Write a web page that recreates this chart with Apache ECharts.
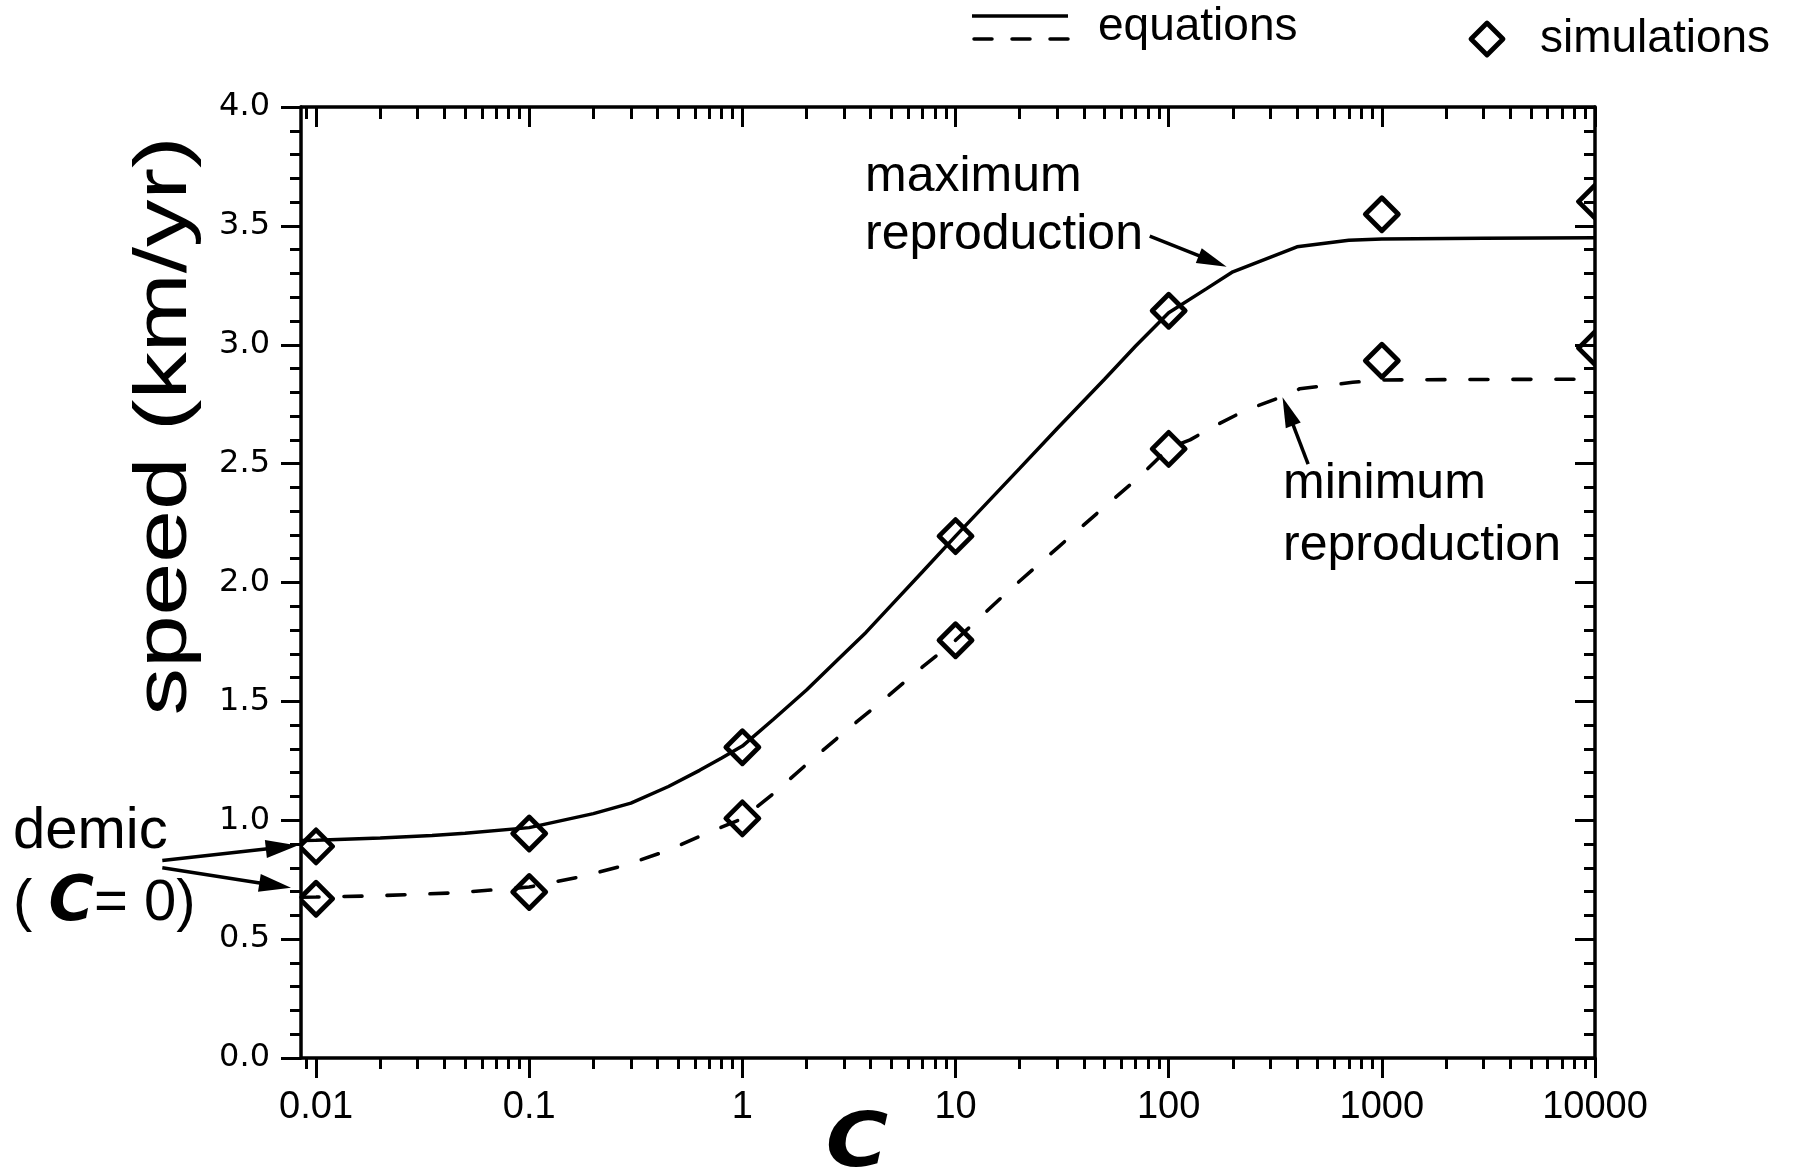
<!DOCTYPE html>
<html><head><meta charset="utf-8">
<script src="https://cdn.jsdelivr.net/npm/echarts@6/dist/echarts.min.js"></script>
<style>html,body{margin:0;padding:0;background:#fff}#c{width:1797px;height:1175px}</style>
</head><body><div id="c"></div>
<script>
// ---- data ----
const X_MAJOR = [0.01, 0.1, 1, 10, 100, 1000, 10000];
const X_MINOR = [0.009,
  0.02,0.03,0.04,0.05,0.06,0.07,0.08,0.09,
  0.2,0.3,0.4,0.5,0.6,0.7,0.8,0.9,
  2,3,4,5,6,7,8,9,
  20,30,40,50,60,70,80,90,
  200,300,400,500,600,700,800,900,
  2000,3000,4000,5000,6000,7000,8000,9000];
const Y_TICKS = [0, 0.5, 1.0, 1.5, 2.0, 2.5, 3.0, 3.5, 4.0];

// simulations (diamonds)
const C_SIM   = [0.01, 0.1, 1, 10, 100, 1000, 10000];
const SIM_MAX = [0.890, 0.944, 1.307, 2.195, 3.143, 3.549, 3.602];
const SIM_MIN = [0.670, 0.698, 1.008, 1.757, 2.562, 2.933, 2.986];

// equations, maximum reproduction (solid)
const C_EQ_MAX = [0.0085, 0.01, 0.02, 0.035, 0.05, 0.1, 0.2, 0.3, 0.45, 0.63, 0.8, 1, 1.4, 2, 2.8, 3.8, 5, 7, 10, 20, 30, 50, 70, 100, 150, 200, 400, 700, 1000, 3000, 10000];
const EQ_MAX   = [0.915, 0.916, 0.925, 0.936, 0.945, 0.969, 1.028, 1.072, 1.142, 1.210, 1.262, 1.312, 1.425, 1.548, 1.675, 1.790, 1.905, 2.045, 2.195, 2.480, 2.648, 2.855, 2.995, 3.135, 3.235, 3.307, 3.412, 3.440, 3.445, 3.448, 3.450];

// equations, minimum reproduction (dashed)
const C_EQ_MIN = [0.0085, 0.01, 0.0172, 0.0437, 0.1, 0.178, 0.28, 0.447, 0.7, 1, 1.4, 2, 3, 4.5, 7, 10, 18, 30, 46, 73, 100, 126, 164, 230, 340, 412, 730, 1000, 3000, 10000];
const EQ_MIN   = [0.676, 0.677, 0.681, 0.694, 0.719, 0.764, 0.810, 0.873, 0.950, 1.007, 1.112, 1.235, 1.370, 1.500, 1.645, 1.757, 1.970, 2.145, 2.290, 2.445, 2.565, 2.600, 2.658, 2.725, 2.781, 2.815, 2.842, 2.852, 2.854, 2.855];

// annotation arrows (data coordinates: [tail, tip])
const ARROW_MAX = [[81.5, 3.457], [187, 3.328]];
const ARROW_MIN = [[451, 2.498], [342, 2.779]];
const ARROW_DEMIC = [[[0.0019, 0.831], [0.0082, 0.894]], [[0.0019, 0.800], [0.00763, 0.716]]];

// ---- chart ----
const FONT = '"Liberation Sans", Arial, sans-serif';
const X_MIN = 0.0085, X_MAX = 10000;
const zip = (xs, ys) => xs.map((x, i) => [x, ys[i]]);
const fmtX = v => String(Number(Number(v).toPrecision(6)));
const black = '#000';

const chart = echarts.init(document.getElementById('c'), null, {renderer: 'canvas'});

function xAx(position, ticks, len, inside, withLine, withLabel) {
  return {
    type: 'log', logBase: 10, min: X_MIN, max: X_MAX, position: position,
    axisLine: {show: withLine, onZero: false, lineStyle: {color: black, width: 3.5}},
    axisTick: {show: true, customValues: ticks, length: len, inside: inside, lineStyle: {color: black, width: 3}},
    axisLabel: withLabel ? {show: true, customValues: ticks, formatter: fmtX, fontSize: 38, color: black, fontFamily: FONT, margin: 31}
                         : {show: false},
    splitLine: {show: false}, minorTick: {show: false}, minorSplitLine: {show: false}
  };
}
function yAx(position, inside, withLabel) {
  return {
    type: 'value', min: 0, max: 4, interval: 0.5, position: position,
    axisLine: {show: true, onZero: false, lineStyle: {color: black, width: 3.5}},
    axisTick: {show: true, length: 20, inside: inside, lineStyle: {color: black, width: 3}},
    minorTick: {show: true, splitNumber: 5, length: 11, lineStyle: {color: black, width: 3}},
    axisLabel: withLabel ? {show: true, customValues: Y_TICKS, formatter: v => Number(v).toFixed(1), fontSize: 32, color: black, fontFamily: '"DejaVu Sans", sans-serif', margin: 31}
                         : {show: false},
    splitLine: {show: false}, minorSplitLine: {show: false}
  };
}

function diamondItem(params, api) {
  const p = api.coord([api.value(0), api.value(1)]);
  const r = 16.5;
  return {
    type: 'polygon',
    shape: {points: [[p[0], p[1] - r], [p[0] + r, p[1]], [p[0], p[1] + r], [p[0] - r, p[1]]]},
    style: {fill: 'none', stroke: black, lineWidth: 4.8, lineJoin: 'round'}
  };
}

chart.setOption({
  animation: false,
  backgroundColor: '#fff',
  grid: {left: 301, top: 107, width: 1294, height: 951, containLabel: false, outerBoundsMode: 'none'},
  xAxis: [
    xAx('bottom', X_MAJOR, 20, false, true, true),
    xAx('bottom', X_MINOR, 11, false, false, false),
    xAx('top', X_MAJOR, 20, true, true, false),
    xAx('top', X_MINOR, 12, true, false, false)
  ],
  yAxis: [
    yAx('left', false, true),
    yAx('right', true, false)
  ],
  series: [
    {type: 'line', xAxisIndex: 0, yAxisIndex: 0, data: zip(C_EQ_MAX, EQ_MAX), symbol: 'none', showSymbol: false, silent: true,
     lineStyle: {color: black, width: 3.5}, z: 2},
    {type: 'line', xAxisIndex: 0, yAxisIndex: 0, data: zip(C_EQ_MIN, EQ_MIN), symbol: 'none', showSymbol: false, silent: true,
     lineStyle: {color: black, width: 3.6, type: [18, 25], cap: 'round'}, z: 2},
    {type: 'custom', coordinateSystem: 'cartesian2d', xAxisIndex: 0, yAxisIndex: 0, clip: true, silent: true,
     data: zip(C_SIM, SIM_MAX), encode: {x: 0, y: 1}, renderItem: diamondItem, z: 3},
    {type: 'custom', coordinateSystem: 'cartesian2d', xAxisIndex: 0, yAxisIndex: 0, clip: true, silent: true,
     data: zip(C_SIM, SIM_MIN), encode: {x: 0, y: 1}, renderItem: diamondItem, z: 3}
  ]
});

// ---- annotations ----
const px = p => chart.convertToPixel({seriesIndex: 0}, p);
function arrow(tail, tip, headLen, headW) {
  const a = px(tail), b = px(tip);
  const dx = b[0] - a[0], dy = b[1] - a[1], L = Math.hypot(dx, dy);
  const ux = dx / L, uy = dy / L, nx = -uy, ny = ux;
  const bx = b[0] - ux * headLen, by = b[1] - uy * headLen;
  return [
    {type: 'line', shape: {x1: a[0], y1: a[1], x2: bx + ux * 2, y2: by + uy * 2}, style: {stroke: black, lineWidth: 3.5}, silent: true},
    {type: 'polygon', shape: {points: [[b[0], b[1]], [bx + nx * headW, by + ny * headW], [bx - nx * headW, by - ny * headW]]}, style: {fill: black}, silent: true}
  ];
}
function txt(x, y, text, size, extra) {
  return Object.assign({type: 'text', x: x, y: y, silent: true,
    style: Object.assign({text: text, fill: black, font: size + 'px ' + FONT, textAlign: 'left', textVerticalAlign: 'middle'}, extra || {})});
}

const g = [];
g.push(...arrow(ARROW_MAX[0], ARROW_MAX[1], 30, 8));
g.push(...arrow(ARROW_MIN[0], ARROW_MIN[1], 30, 8));
ARROW_DEMIC.forEach(a => g.push(...arrow(a[0], a[1], 32, 9)));

g.push(txt(865, 177, 'maximum', 50));
g.push(txt(865, 235, 'reproduction', 50));
g.push(txt(1283, 484, 'minimum', 50));
g.push(txt(1283, 546, 'reproduction', 50));
g.push(txt(13, 832, 'demic', 58));
g.push({type: 'text', x: 13, y: 904, silent: true, style: {
  text: '( {c|C}= 0)', fill: black, font: '58px ' + FONT, textVerticalAlign: 'middle',
  rich: {c: {font: 'italic bold 62px "DejaVu Sans", sans-serif', fill: black}}
}});

// axis titles
g.push({type: 'text', x: 857, y: 1147, scaleX: 1.15, silent: true, style: {
  text: 'C', fill: black, font: 'italic bold 74px "DejaVu Sans", sans-serif', textAlign: 'center', textVerticalAlign: 'middle'}});
g.push({type: 'text', x: 166, y: 426, rotation: Math.PI / 2, scaleX: 1.28, silent: true, style: {
  text: 'speed (km/yr)', fill: black, font: '74px ' + FONT, textAlign: 'center', textVerticalAlign: 'middle'}});

// legend
g.push({type: 'line', shape: {x1: 972, y1: 16, x2: 1068, y2: 16}, style: {stroke: black, lineWidth: 3.5}, silent: true});
g.push({type: 'line', shape: {x1: 974, y1: 39, x2: 1068, y2: 39}, style: {stroke: black, lineWidth: 3.5, lineDash: [18, 20], lineCap: 'round'}, silent: true});
g.push(txt(1098, 27, 'equations', 46));
g.push({type: 'polygon', shape: {points: [[1487, 23], [1503, 39], [1487, 55], [1471, 39]]}, style: {fill: 'none', stroke: black, lineWidth: 4.8, lineJoin: 'round'}, silent: true});
g.push(txt(1540, 39, 'simulations', 46));

chart.setOption({graphic: g});
</script></body></html>
